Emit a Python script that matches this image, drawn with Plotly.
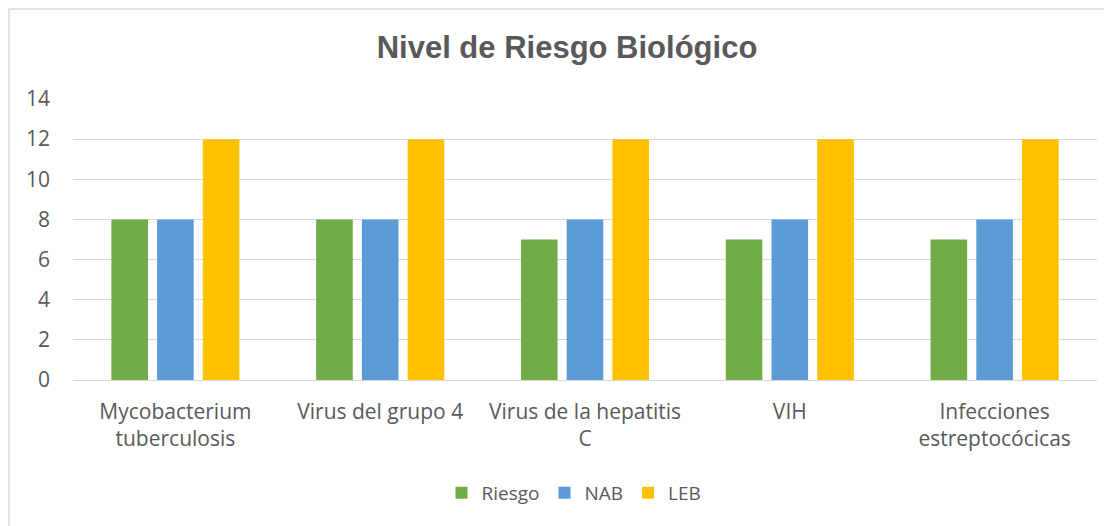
import plotly.graph_objects as go

categories = ["Mycobacterium<br>tuberculosis", "Virus del grupo 4", "Virus de la hepatitis<br>C", "VIH", "Infecciones<br>estreptocócicas"]
riesgo = [8, 8, 7, 7, 7]
nab = [8, 8, 8, 8, 8]
leb = [12, 12, 12, 12, 12]
y_ticks = [0, 2, 4, 6, 8, 10, 12, 14]

FONT = "Open Sans"
GREY = "#595959"

fig = go.Figure()
fig.add_bar(name="Riesgo", x=categories, y=riesgo, marker_color="#70AD47", marker_line_width=0)
fig.add_bar(name="NAB", x=categories, y=nab, marker_color="#5B9BD5", marker_line_width=0)
fig.add_bar(name="LEB", x=categories, y=leb, marker_color="#FFC000", marker_line_width=0)

# page body has an 8px margin; figure sized to fit the window
W, H = 1104, 518
L, R, T, B = 65, 15, 91, 146
PW, PH = W - L - R, H - T - B

fig.update_layout(
    width=W, height=H,
    margin=dict(l=L, r=R, t=T, b=B),
    paper_bgcolor="white", plot_bgcolor="white",
    barmode="group", bargap=0.33, bargroupgap=0.2,
    font=dict(family=FONT, size=19, color=GREY),
    title=dict(text="<b>Nivel de Riesgo Biológico</b>", x=(567 - 8 - L) / PW, xref="paper", xanchor="center",
               y=1 - (47 - 8) / H, yanchor="middle",
               font=dict(family="Liberation Sans", size=31, color=GREY)),
    legend=dict(orientation="h", x=(574 - 8 - L) / PW, xanchor="center",
                y=-(493 - 380) / PH, yanchor="middle",
                font=dict(family=FONT, size=19, color=GREY), traceorder="normal"),
    xaxis=dict(showgrid=False, showline=False, ticks="", tickfont=dict(size=21, color=GREY),
               ticklabelstandoff=17),
    yaxis=dict(range=[0, 14], tickvals=y_ticks, showgrid=True, gridcolor="#D9D9D9", gridwidth=1,
               zeroline=True, zerolinecolor="#D9D9D9", zerolinewidth=1,
               ticks="", tickfont=dict(size=21, color=GREY), ticklabelstandoff=22),
    shapes=[dict(type="rect", xref="paper", yref="paper",
                 x0=-(L - 1) / PW, x1=1 + (R + 20) / PW,
                 y0=-(B + 20) / PH, y1=1 + (T - 1) / PH,
                 line=dict(color="#D9D9D9", width=1.5), layer="below")],
)

fig.write_html("out.html")
